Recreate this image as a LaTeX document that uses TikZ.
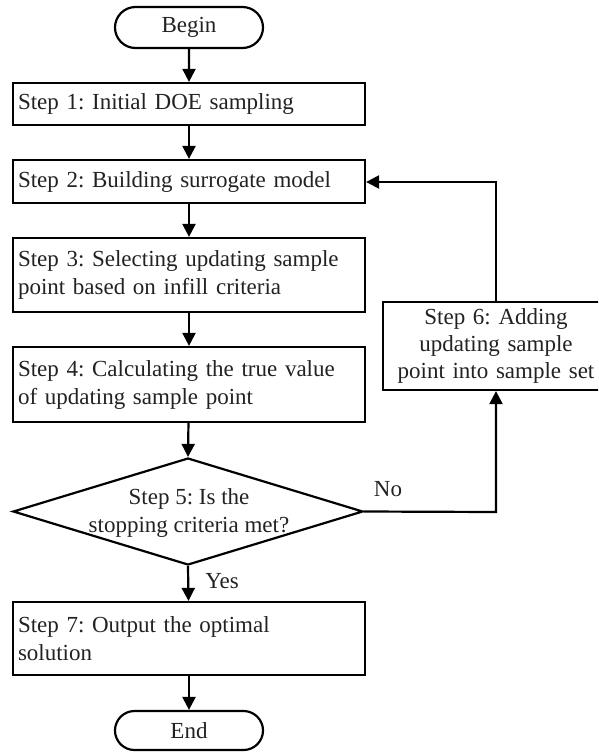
\documentclass[tikz,border=0pt]{standalone}
\usepackage{fontspec}
\setmainfont{Liberation Serif}
\usetikzlibrary{shapes.geometric,shapes.misc,arrows.meta}
\definecolor{txt}{HTML}{222222}
\tikzset{
  every node/.style={text=txt, font=\fontsize{23}{28}\selectfont},
  stepbox/.style={draw, line width=2.2pt, rectangle, text width=342pt, inner xsep=5pt, inner ysep=0pt, align=left},
  term/.style={draw, line width=2.2pt, rounded rectangle, minimum width=148pt, inner sep=0pt},
  conn/.style={line width=2.2pt, -{Triangle[length=13pt,width=13pt]}},
  lbl/.style={inner sep=0pt}
}
\begin{document}
\frenchspacing
\begin{tikzpicture}[x=1pt,y=-1pt]
\useasboundingbox (0,0) rectangle (598,753);
\clip (0,0) rectangle (598,753);
\node[term, minimum height=41pt] (begin) at (189,27.5) {Begin};
\node[stepbox, minimum height=42pt] (s1) at (189,104) {Step 1: Initial DOE sampling};
\node[stepbox, minimum height=43pt] (s2) at (189,181.5) {Step 2: Building surrogate model};
\node[stepbox, minimum height=74pt] (s3) at (189,275) {Step 3: Selecting updating sample\\point based on infill criteria};
\node[stepbox, minimum height=75pt] (s4) at (189,384.5) {Step 4: Calculating the true value\\of updating sample point};
\node[draw, line width=2.2pt, diamond, minimum width=350pt, minimum height=107pt, inner sep=0pt] (s5) at (188,511.5) {};
\node[lbl, align=center] (s5t) at (189,513) {Step 5: Is the\\stopping criteria met?};
\node[draw, line width=2.2pt, rectangle, minimum width=226pt, minimum height=88pt, text width=216pt, inner sep=0pt, align=center, font=\fontsize{23}{27}\selectfont] (s6) at (496,346) {Step 6: Adding\\updating sample\\point into sample set};
\node[stepbox, minimum height=73pt] (s7) at (189,638.5) {Step 7: Output the optimal\\solution};
\node[term, minimum height=39pt] (end) at (189,730.5) {End};
\node[lbl] (yes) at (222,581) {Yes};
\node[lbl] (no) at (388,489) {No};
\coordinate (c1) at (496,512);
\coordinate (c2) at (496,182);
\draw[conn] (begin) -- (s1);
\draw[conn] (s1) -- (s2);
\draw[conn] (s2) -- (s3);
\draw[conn] (s3) -- (s4);
\draw[conn] (s4) -- (s5.north);
\draw[conn] (s5.south) -- (s7);
\draw[conn] (s7) -- (end);
\draw[conn] (s5.east) -- (c1) -- (s6.south);
\draw[conn] (s6.north) -- (c2) -- (s2.east |- c2);
\end{tikzpicture}
\end{document}
